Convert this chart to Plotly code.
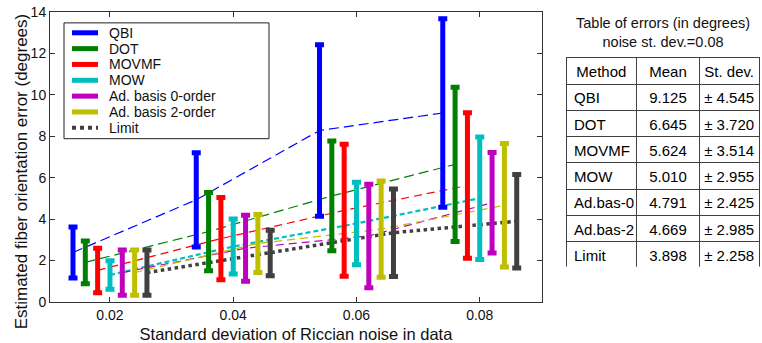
import plotly.graph_objects as go

# ---------------- data ----------------
noise_levels = [0.02, 0.04, 0.06, 0.08]
methods = ["QBI", "DOT", "MOVMF", "MOW", "Ad. basis 0-order", "Ad. basis 2-order", "Limit"]
table_names = ["QBI", "DOT", "MOVMF", "MOW", "Ad.bas-0", "Ad.bas-2", "Limit"]
table_header = ["Method", "Mean", "St.\u00a0dev."]

qbi_mean = [2.39, 4.935, 8.28, 9.125]
qbi_std = [1.23, 2.275, 4.14, 4.545]
dot_mean = [1.915, 3.40, 5.12, 6.645]
dot_std = [1.035, 1.89, 2.65, 3.720]
movmf_mean = [1.525, 3.06, 4.425, 5.624]
movmf_std = [1.075, 1.99, 3.185, 3.514]
mow_mean = [1.305, 2.68, 3.79, 5.010]
mow_std = [0.685, 1.33, 1.99, 2.955]
ad0_mean = [1.42, 2.595, 3.19, 4.791]
ad0_std = [1.09, 1.595, 2.50, 2.425]
ad2_mean = [1.42, 2.825, 3.515, 4.669]
ad2_std = [1.09, 1.395, 2.325, 2.985]
limit_mean = [1.42, 2.365, 3.345, 3.898]
limit_std = [1.09, 1.095, 2.115, 2.258]

means = [qbi_mean, dot_mean, movmf_mean, mow_mean, ad0_mean, ad2_mean, limit_mean]
stds = [qbi_std, dot_std, movmf_std, mow_std, ad0_std, ad2_std, limit_std]

# ---------------- style ----------------
FONT = "Liberation Sans, Arial, sans-serif"
colors = ["#0000FF", "#008000", "#FF0000", "#00BFBF", "#BF00BF", "#BFBF00", "#404040"]
line_styles = [
    dict(width=1.2, dash="10px,5px"),
    dict(width=1.2, dash="10px,5px"),
    dict(width=1.2, dash="8px,5px"),
    dict(width=2.2, dash="5px,3px"),
    dict(width=1.2, dash="8px,5px"),
    dict(width=1.2, dash="8px,5px"),
    dict(width=3.5, dash="dot"),
]
group_offsets = [-0.006, -0.004, -0.002, 0.0, 0.002, 0.004, 0.006]

W, H = 762, 343
ML, MR, MT, MB = 50, 2, 12, 38
PW, PH = W - ML - MR, H - MT - MB
AX_RIGHT = 542  # px right edge of chart axes


def px_x(px):
    return (px - ML) / PW


def px_y(py):
    return (H - MB - py) / PH


fig = go.Figure()

# mean lines
for i, name in enumerate(methods):
    xs = [n + group_offsets[i] for n in noise_levels]
    fig.add_trace(go.Scatter(
        x=xs, y=means[i], mode="lines", showlegend=False, hoverinfo="skip",
        line=dict(color=colors[i], **line_styles[i]),
    ))

# error bars
for i, name in enumerate(methods):
    xs = [n + group_offsets[i] for n in noise_levels]
    fig.add_trace(go.Scatter(
        x=xs, y=means[i], mode="markers", name=name, showlegend=False,
        marker=dict(size=2, opacity=0, color=colors[i]),
        error_y=dict(type="data", array=stds[i], visible=True,
                     color=colors[i], thickness=5, width=4.5),
    ))

# table (noise st. dev. = last level)
last = len(noise_levels) - 1
fig.add_trace(go.Table(
    domain=dict(x=[px_x(566), 1.0], y=[px_y(270), px_y(58)]),
    columnwidth=[71, 63, 60],
    header=dict(
        values=table_header,
        height=26.5, align="center",
        font=dict(family=FONT, size=15, color="black"),
        line=dict(color="#404040", width=1), fill=dict(color="white"),
    ),
    cells=dict(
        values=[
            table_names,
            ["%.3f" % m[last] for m in means],
            ["\u00b1\u00a0%.3f" % s[last] for s in stds],
        ],
        height=26.3,
        align=["left", "center", "center"],
        font=dict(family=FONT, size=15, color="black"),
        line=dict(color="#404040", width=1), fill=dict(color="white"),
    ),
))

# manual legend
shapes = [dict(type="rect", xref="paper", yref="paper",
               x0=px_x(64), x1=px_x(269), y0=px_y(140), y1=px_y(23),
               line=dict(color="#202020", width=1), fillcolor="white", layer="above")]
annotations = []
for i, name in enumerate(methods):
    yc = 33 + 16 * i
    ls = dict(width=5) if i < 6 else dict(width=4, dash="dot")
    shapes.append(dict(type="line", xref="paper", yref="paper",
                       x0=px_x(72), x1=px_x(98), y0=px_y(yc), y1=px_y(yc),
                       line=dict(color=colors[i], **ls), layer="above"))
    annotations.append(dict(x=px_x(107), y=px_y(yc), xref="paper", yref="paper",
                            text=name, showarrow=False, xanchor="left", yanchor="middle",
                            font=dict(family=FONT, size=14, color="#111")))

# y title
annotations.append(dict(x=px_x(21), y=px_y(173), xref="paper", yref="paper",
                        text="Estimated fiber orientation error (degrees)", textangle=-90,
                        showarrow=False, xanchor="center", yanchor="middle",
                        font=dict(family=FONT, size=17, color="#111")))
# table title
annotations.append(dict(x=px_x(663), y=px_y(33), xref="paper", yref="paper",
                        text="Table of errors (in degrees)<br>noise st. dev.=%.2f" % noise_levels[last],
                        showarrow=False, xanchor="center", yanchor="middle",
                        font=dict(family=FONT, size=14.5, color="#111")))

axis_common = dict(showline=True, linecolor="#333", linewidth=1, mirror="ticks",
                   ticks="inside", ticklen=5, tickcolor="#333", showgrid=False,
                   zeroline=False, tickfont=dict(family=FONT, size=14, color="#111"))

fig.update_layout(
    width=W, height=H,
    margin=dict(l=ML, r=MR, t=MT, b=MB),
    paper_bgcolor="white", plot_bgcolor="white",
    showlegend=False,
    xaxis=dict(domain=[0, (AX_RIGHT - ML) / PW], range=[0.01027, 0.0901],
               tickvals=noise_levels, tickformat=".2f",
               title=dict(text="Standard deviation of Riccian noise in data",
                          font=dict(family=FONT, size=16.5, color="#111"), standoff=7),
               **axis_common),
    yaxis=dict(range=[0, 14], dtick=2, **axis_common),
    shapes=shapes,
    annotations=annotations,
)

fig.write_html("out.html", config={"displayModeBar": False},
               post_script="document.body.style.margin='0px';")
